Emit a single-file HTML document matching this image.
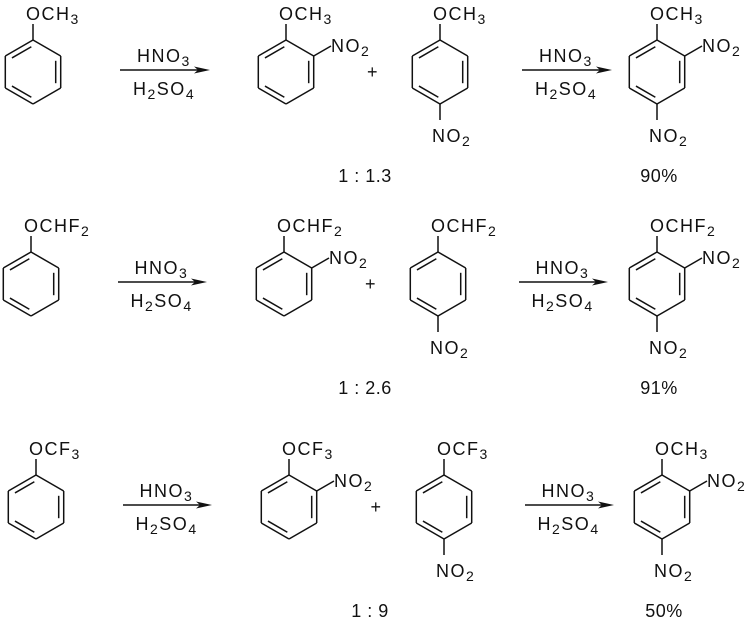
<!DOCTYPE html>
<html><head><meta charset="utf-8"><style>
html,body{margin:0;padding:0;background:#fff;}
svg{display:block;}
text{font-family:"Liberation Sans",sans-serif;font-size:18px;fill:#111;letter-spacing:1.5px;}
text.lab{letter-spacing:0.5px;}
tspan.s{font-size:14px;}
</style></head><body>
<svg id="s" width="752" height="620" viewBox="0 0 752 620" xmlns="http://www.w3.org/2000/svg"></svg>
<script>
(function(){
var S=document.getElementById('s');var h='';
var st='stroke="#111" stroke-width="1.5" fill="none"';
function L(x1,y1,x2,y2){h+='<line x1="'+x1+'" y1="'+y1+'" x2="'+x2+'" y2="'+y2+'" '+st+'/>';}
function T(x,y,parts,anchor,cls){var s='<text x="'+x+'" y="'+y+'"'+(anchor?' text-anchor="'+anchor+'"':'')+(cls?' class="'+cls+'"':'')+'>';
 for(var k=0;k<parts.length;k++){var p=parts[k];if(typeof p==='string')s+='<tspan>'+p+'</tspan>';else s+='<tspan class="s" dy="4">'+p[0]+'</tspan><tspan dy="-4">\u200B</tspan>';}
 h+=s+'</text>';}
function ring(cx,cy){var r=32,w=27.7;
 var v=[[cx,cy-r],[cx+w,cy-16],[cx+w,cy+16],[cx,cy+r],[cx-w,cy+16],[cx-w,cy-16]];
 for(var i=0;i<6;i++){var a=v[i],b=v[(i+1)%6];L(a[0],a[1],b[0],b[1]);}
 var pairs=[[5,0],[1,2],[3,4]];
 for(var q=0;q<3;q++){var a=v[pairs[q][0]],b=v[pairs[q][1]];
  var mx=(a[0]+b[0])/2,my=(a[1]+b[1])/2;var dx=cx-mx,dy=cy-my,d=Math.hypot(dx,dy);
  var ox=dx/d*5,oy=dy/d*5;var f=0.15;
  L(a[0]+(b[0]-a[0])*f+ox,a[1]+(b[1]-a[1])*f+oy,b[0]+(a[0]-b[0])*f+ox,b[1]+(a[1]-b[1])*f+oy);}
}
function subTop(cx,cy,parts){L(cx,cy-32,cx,cy-48);T(cx-7,cy-52,parts);}
function ortho(cx,cy){L(cx+27.7,cy-16,cx+45,cy-26);T(cx+45,cy-20,['NO',['2']]);}
function para(cx,cy){L(cx,cy+32,cx,cy+48);T(cx-8,cy+70,['NO',['2']]);}
function arrow(x1,x2,y){L(x1,y,x2-10,y);h+='<path d="M'+x2+','+y+' L'+(x2-16)+','+(y-3.5)+' L'+(x2-12)+','+y+' L'+(x2-16)+','+(y+3.5)+' Z" fill="#111"/>';
 var c=(x1+x2)/2;T(c-28,y-8,['HNO',['3']]);T(c-32,y+25,['H',['2'],'SO',['4']]);}
var rows=[
 {y:72,r1:33,a1:[120,210],o:286,p:440,a2:[522,612],q:657,sub:['OCH',['3']],lab:'1 : 1.3',lx:365,pc:'90%',psub:['OCH',['3']]},
 {y:284,r1:31,a1:[118,207],o:284,p:438,a2:[519,608],q:657,sub:['OCHF',['2']],lab:'1 : 2.6',lx:365,pc:'91%',psub:['OCHF',['2']]},
 {y:507,r1:36,a1:[123,212],o:289,p:444,a2:[525,614],q:662,sub:['OCF',['3']],lab:'1 : 9',lx:370,pc:'50%',psub:['OCH',['3']]}];
for(var n=0;n<rows.length;n++){var R=rows[n];var y=R.y;
 ring(R.r1,y);subTop(R.r1,y,R.sub);
 arrow(R.a1[0],R.a1[1],y-2);
 ring(R.o,y);subTop(R.o,y,R.sub);ortho(R.o,y);
 T((R.o+R.p)/2+10,y+6,['+'],'middle');
 ring(R.p,y);subTop(R.p,y,R.sub);para(R.p,y);
 arrow(R.a2[0],R.a2[1],y-2);
 ring(R.q,y);subTop(R.q,y,R.psub);ortho(R.q,y);para(R.q,y);
 T(R.lx,y+110,[R.lab],'middle','lab');T(R.q+2,y+110,[R.pc],'middle','lab');}
S.innerHTML=h;
})();
</script>
</body></html>
